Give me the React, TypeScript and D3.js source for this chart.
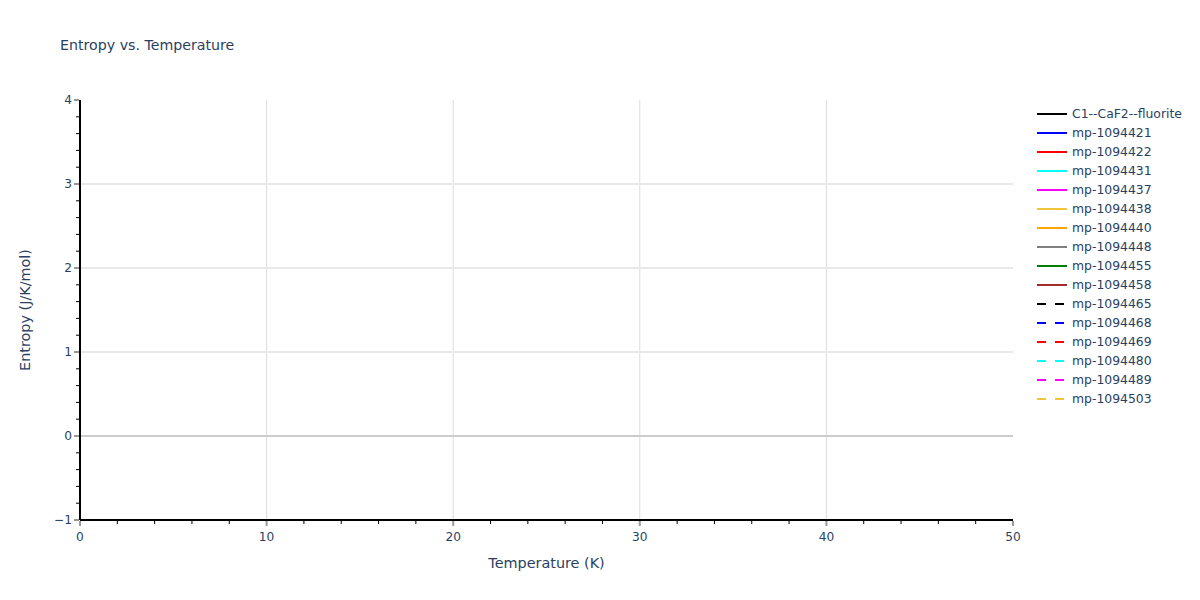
import * as d3 from 'd3';

type Series = {
  name: string;
  color: string;
  dash: boolean;
  temps: number[];
  values: number[];
};

// no curves fall inside the visible window, so every series is empty
const SERIES_NAMES = [
  'C1--CaF2--fluorite',
  'mp-1094421',
  'mp-1094422',
  'mp-1094431',
  'mp-1094437',
  'mp-1094438',
  'mp-1094440',
  'mp-1094448',
  'mp-1094455',
  'mp-1094458',
  'mp-1094465',
  'mp-1094468',
  'mp-1094469',
  'mp-1094480',
  'mp-1094489',
  'mp-1094503',
];
const SERIES_COLORS = [
  '#000000',
  '#0000ff',
  '#ff0000',
  '#00ffff',
  '#ff00ff',
  '#f0c43c',
  '#ffa500',
  '#808080',
  '#008000',
  '#a52a2a',
  '#000000',
  '#0000ff',
  '#ff0000',
  '#00ffff',
  '#ff00ff',
  '#f0c43c',
];
const SERIES_DASHED = [
  false, false, false, false, false, false, false, false, false, false,
  true, true, true, true, true, true,
];
const SERIES_TEMPS: number[][] = SERIES_NAMES.map(() => []);
const SERIES_VALUES: number[][] = SERIES_NAMES.map(() => []);

const X_DOMAIN: [number, number] = [0, 50];
const Y_DOMAIN: [number, number] = [-1, 4];
const X_TICKS = [0, 10, 20, 30, 40, 50];
const Y_TICKS = [-1, 0, 1, 2, 3, 4];

const TITLE = 'Entropy vs. Temperature';
const X_TITLE = 'Temperature (K)';
const Y_TITLE = 'Entropy (J/K/mol)';

const W = 1200;
const H = 600;
const PLOT = { left: 80, right: 1013, top: 100, bottom: 520 };
const FONT = '"DejaVu Sans", Verdana, sans-serif';
const TEXT = '#2a3f5f';

export default function App() {
  const series: Series[] = SERIES_NAMES.map((name, i) => ({
    name,
    color: SERIES_COLORS[i],
    dash: SERIES_DASHED[i],
    temps: SERIES_TEMPS[i],
    values: SERIES_VALUES[i],
  }));

  const x = d3.scaleLinear().domain(X_DOMAIN).range([PLOT.left, PLOT.right]);
  const y = d3.scaleLinear().domain(Y_DOMAIN).range([PLOT.bottom, PLOT.top]);

  const xMinor = d3.range(X_DOMAIN[0], X_DOMAIN[1] + 0.001, 2).filter((v) => v % 10 !== 0);
  const yMinor = d3
    .range(Y_DOMAIN[0], Y_DOMAIN[1] + 0.001, 0.2)
    .map((v) => Math.round(v * 10) / 10)
    .filter((v) => Math.abs(v - Math.round(v)) > 0.01);

  const line = d3
    .line<[number, number]>()
    .x((d) => x(d[0]))
    .y((d) => y(d[1]));

  return (
    <svg
      width={W}
      height={H}
      style={{ position: 'absolute', left: 0, top: 0, background: '#fff' }}
      fontFamily={FONT}
    >
      <text x={60} y={50} fontSize={14.2} fill={TEXT}>
        {TITLE}
      </text>

      {/* grid */}
      {X_TICKS.filter((t) => t !== X_DOMAIN[0] && t !== X_DOMAIN[1]).map((t) => (
        <line key={`gx${t}`} x1={x(t)} x2={x(t)} y1={PLOT.top} y2={PLOT.bottom} stroke="#dddddd" strokeWidth={1} />
      ))}
      {Y_TICKS.filter((t) => t !== Y_DOMAIN[0] && t !== Y_DOMAIN[1]).map((t) => (
        <line
          key={`gy${t}`}
          x1={PLOT.left}
          x2={PLOT.right}
          y1={y(t)}
          y2={y(t)}
          stroke={t === 0 ? '#cccccc' : '#e8e8e8'}
          strokeWidth={2}
        />
      ))}

      {/* series */}
      {series.map((s) => (
        <path
          key={s.name}
          d={line(s.temps.map((t, i) => [t, s.values[i]] as [number, number])) ?? ''}
          fill="none"
          stroke={s.color}
          strokeWidth={2}
          strokeDasharray={s.dash ? '9,9' : undefined}
        />
      ))}

      {/* axes */}
      <line x1={PLOT.left} x2={PLOT.right} y1={PLOT.bottom} y2={PLOT.bottom} stroke="#000" strokeWidth={2} />
      <line x1={PLOT.left} x2={PLOT.left} y1={PLOT.top} y2={PLOT.bottom} stroke="#000" strokeWidth={2} />

      {X_TICKS.map((t) => (
        <g key={`xt${t}`}>
          <line x1={x(t)} x2={x(t)} y1={PLOT.bottom + 1} y2={PLOT.bottom + 6} stroke="#999" strokeWidth={2} />
          <text x={x(t)} y={541} fontSize={12.2} fill={TEXT} textAnchor="middle">
            {t}
          </text>
        </g>
      ))}
      {xMinor.map((t) => (
        <line key={`xm${t}`} x1={x(t)} x2={x(t)} y1={PLOT.bottom + 1} y2={PLOT.bottom + 4} stroke="#000" strokeWidth={1} />
      ))}
      {Y_TICKS.map((t) => (
        <g key={`yt${t}`}>
          <line x1={PLOT.left - 6} x2={PLOT.left - 1} y1={y(t)} y2={y(t)} stroke="#999" strokeWidth={2} />
          <text x={72} y={y(t)} dy="0.35em" fontSize={12.2} fill={TEXT} textAnchor="end">
            {t < 0 ? `\u2212${Math.abs(t)}` : t}
          </text>
        </g>
      ))}
      {yMinor.map((t) => (
        <line key={`ym${t}`} x1={PLOT.left - 4} x2={PLOT.left - 1} y1={y(t)} y2={y(t)} stroke="#000" strokeWidth={1} />
      ))}

      <text x={(PLOT.left + PLOT.right) / 2} y={568} fontSize={14.4} fill={TEXT} textAnchor="middle">
        {X_TITLE}
      </text>
      <text
        transform={`translate(30,${(PLOT.top + PLOT.bottom) / 2}) rotate(-90)`}
        fontSize={14.4}
        fill={TEXT}
        textAnchor="middle"
      >
        {Y_TITLE}
      </text>

      {/* legend */}
      {series.map((s, i) => {
        const ly = 114 + i * 19;
        return (
          <g key={`lg${s.name}`}>
            <line
              x1={1037}
              x2={1067}
              y1={ly}
              y2={ly}
              stroke={s.color}
              strokeWidth={2}
              strokeDasharray={s.dash ? '9,9' : undefined}
            />
            <text x={1072} y={ly} dy="0.35em" fontSize={12.4} fill={TEXT}>
              {s.name}
            </text>
          </g>
        );
      })}
    </svg>
  );
}
